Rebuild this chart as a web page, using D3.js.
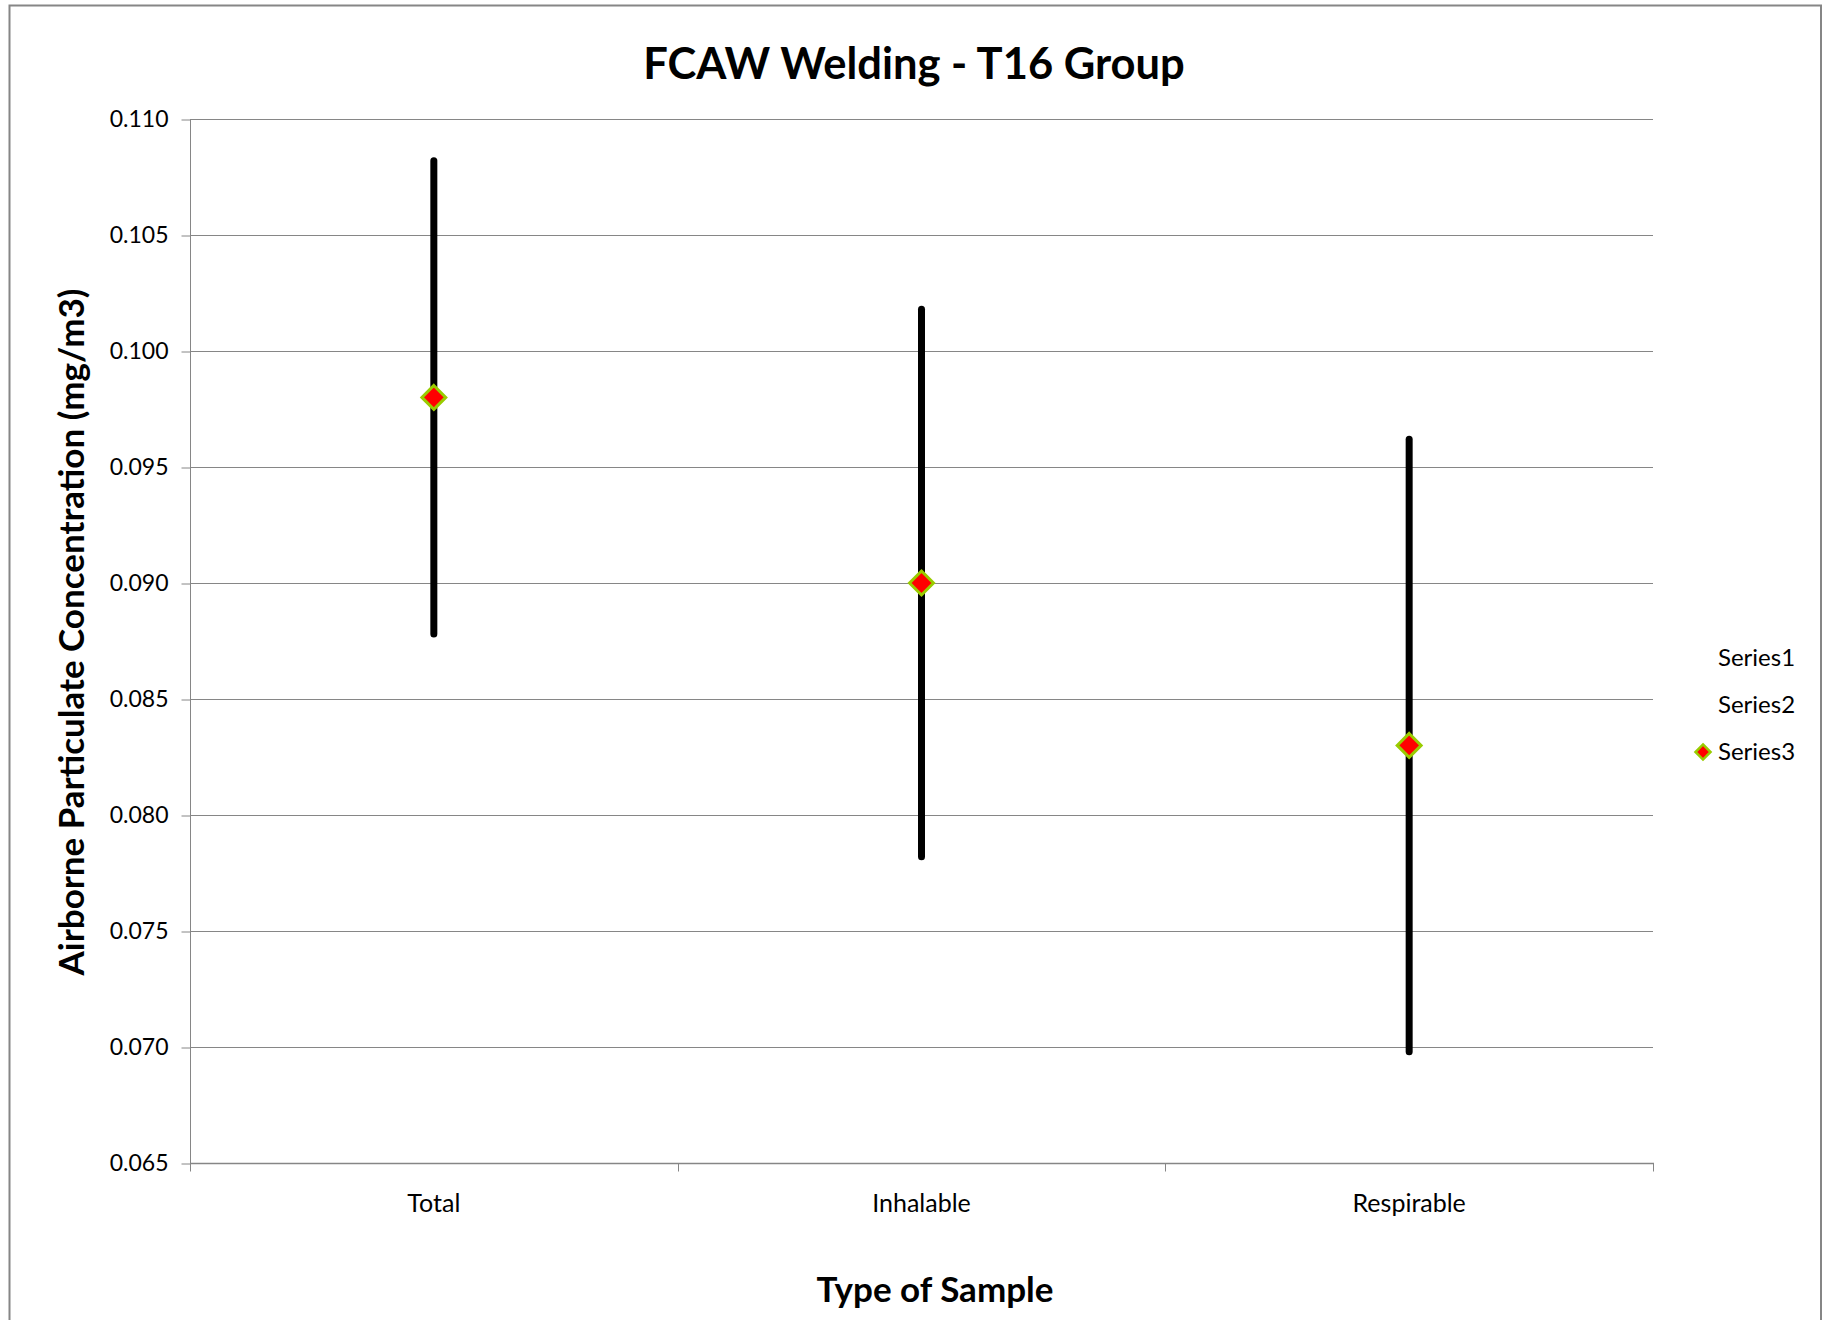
<!DOCTYPE html>
<html>
<head>
<meta charset="utf-8">
<script src="https://cdn.jsdelivr.net/npm/d3@7"></script>
<style>
  html, body { margin: 0; padding: 0; background: #fff; }
  svg { display: block; }
  text { font-family: Lato, "Open Sans", sans-serif; fill: #000; }
</style>
</head>
<body>
<svg id="chart" width="1829" height="1320"></svg>
<script>
const categories = ["Total", "Inhalable", "Respirable"];
const means = [0.098, 0.090, 0.083];
const highs = [0.1082, 0.1018, 0.0962];
const lows = [0.0878, 0.0782, 0.0698];
const yTicks = [0.065, 0.070, 0.075, 0.080, 0.085, 0.090, 0.095, 0.100, 0.105, 0.110];
const legendNames = ["Series1", "Series2", "Series3"];
const titleText = "FCAW Welding - T16 Group";
const xTitle = "Type of Sample";
const yTitle = "Airborne Particulate Concentration (mg/m3)";

const svg = d3.select("#chart");
const plot = { left: 190, right: 1653, top: 119, bottom: 1163 };
const gridColor = "#868686";

// outer frame
svg.append("rect")
  .attr("x", 9.5).attr("y", 5.5)
  .attr("width", 1821 - 9.5).attr("height", 1400)
  .attr("fill", "none").attr("stroke", gridColor).attr("stroke-width", 2);

const x = d3.scaleBand().domain(categories).range([plot.left, plot.right]).padding(0);
const y = d3.scaleLinear().domain([0.065, 0.110]).range([plot.bottom, plot.top]);

// gridlines
svg.append("g").selectAll("line").data(yTicks.slice(1)).join("line")
  .attr("x1", plot.left).attr("x2", plot.right)
  .attr("y1", d => Math.round(y(d)) + 0.5).attr("y2", d => Math.round(y(d)) + 0.5)
  .attr("stroke", gridColor).attr("stroke-width", 1);

// y axis
const yAxis = d3.axisLeft(y).tickValues(yTicks).tickFormat(d3.format(".3f")).tickSize(9).tickPadding(13);
const gy = svg.append("g").attr("transform", `translate(${plot.left + 0.5},0.5)`).call(yAxis);
gy.select(".domain").attr("stroke", gridColor).attr("d", `M0,${plot.top}V${plot.bottom}`);
gy.selectAll(".tick line").attr("stroke", gridColor);
gy.selectAll(".tick text").attr("font-size", 23).attr("font-family", "Lato, sans-serif").attr("fill", "#000");

// x axis
const xEdges = [plot.left].concat(categories.map(c => x(c) + x.bandwidth()));
const gx = svg.append("g").attr("transform", `translate(0,${plot.bottom + 0.5})`);
gx.append("line").attr("x1", plot.left).attr("x2", plot.right + 1).attr("y1", 0).attr("y2", 0)
  .attr("stroke", gridColor).attr("stroke-width", 1.5);
gx.selectAll("line.tk").data(xEdges).join("line").attr("class", "tk")
  .attr("x1", d => Math.round(d) + 0.5).attr("x2", d => Math.round(d) + 0.5)
  .attr("y1", 0).attr("y2", 8).attr("stroke", gridColor);
gx.selectAll("text").data(categories).join("text")
  .attr("x", d => x(d) + x.bandwidth() / 2)
  .attr("y", 48)
  .attr("text-anchor", "middle").attr("font-size", 25)
  .text(d => d);

// error bars
const idx = d3.range(categories.length);
svg.append("g").selectAll("line").data(idx).join("line")
  .attr("x1", i => x(categories[i]) + x.bandwidth() / 2)
  .attr("x2", i => x(categories[i]) + x.bandwidth() / 2)
  .attr("y1", i => y(highs[i])).attr("y2", i => y(lows[i]))
  .attr("stroke", "#000").attr("stroke-width", 7).attr("stroke-linecap", "round");

// markers
const diamond = d3.symbol().type(d3.symbolDiamond2).size(2 * 13.5 * 13.5);
svg.append("g").selectAll("path").data(idx).join("path")
  .attr("d", diamond)
  .attr("transform", i => `translate(${x(categories[i]) + x.bandwidth() / 2},${y(means[i])})`)
  .attr("fill", "#ff0000").attr("stroke", "#99cc00").attr("stroke-width", 3);

// title
svg.append("text").attr("x", 914).attr("y", 79)
  .attr("text-anchor", "middle").attr("font-size", 43.5).attr("font-weight", "bold")
  .text(titleText);

// x title
svg.append("text").attr("x", 935).attr("y", 1302)
  .attr("text-anchor", "middle").attr("font-size", 35).attr("font-weight", "bold")
  .text(xTitle);

// y title
svg.append("text").attr("transform", "translate(84,632) rotate(-90)")
  .attr("text-anchor", "middle").attr("font-size", 35).attr("font-weight", "bold")
  .text(yTitle);

// legend
const legY = [666, 713, 760];
const lg = svg.append("g");
lg.selectAll("text").data(legendNames).join("text")
  .attr("x", 1718).attr("y", (d, i) => legY[i])
  .attr("font-size", 24).text(d => d);
lg.append("path")
  .attr("d", d3.symbol().type(d3.symbolDiamond2).size(2 * 8.5 * 8.5))
  .attr("transform", `translate(1703,752)`)
  .attr("fill", "#ff0000").attr("stroke", "#99cc00").attr("stroke-width", 2.5);
</script>
</body>
</html>
